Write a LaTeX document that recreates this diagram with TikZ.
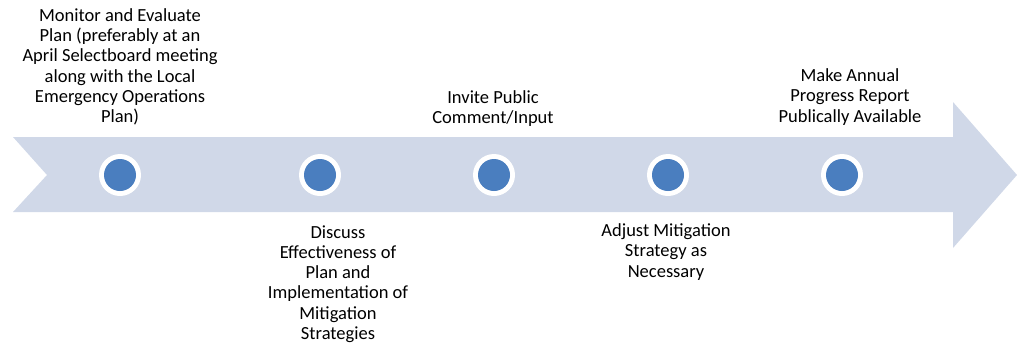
\documentclass[tikz,border=0pt]{standalone}
\usepackage{fontspec}
\setmainfont{Carlito}
\definecolor{arrowfill}{HTML}{D0D8E8}
\definecolor{dotblue}{HTML}{4A7EBF}
\begin{document}
\begin{tikzpicture}[x=1pt,y=-1pt,
  lbl/.style={align=center,font=\fontsize{18.5}{20.3}\selectfont,text=black,inner sep=0pt},
  ring/.style={circle,fill=white,minimum size=42pt,inner sep=0pt},
  dot/.style={circle,fill=dotblue,minimum size=32pt,inner sep=0pt}]
\useasboundingbox (0,0) rectangle (1017,343);
\fill[arrowfill] (13,137) -- (953,137) -- (953,102) -- (1017,175) -- (953,248) -- (953,212) -- (13,212) -- (47,175) -- cycle;
\foreach \n/\x in {a/120,b/320,c/494,d/668,e/842}{
  \node[ring] (r\n) at (\x,175) {};
  \node[dot] (d\n) at (\x,175) {};
}
\node[lbl] (ta) at (120,67) {Monitor and Evaluate\\Plan (preferably at an\\April Selectboard meeting\\along with the Local\\Emergency Operations\\Plan)};
\node[lbl] (tb) at (338,284) {Discuss\\Effectiveness of\\Plan and\\Implementation of\\Mitigation\\Strategies};
\node[lbl] (tc) at (493,108.5) {Invite Public\\Comment/Input};
\node[lbl] (td) at (666,252) {Adjust Mitigation\\Strategy as\\Necessary};
\node[lbl] (te) at (850,97) {Make Annual\\Progress Report\\Publically Available};
\end{tikzpicture}
\end{document}
